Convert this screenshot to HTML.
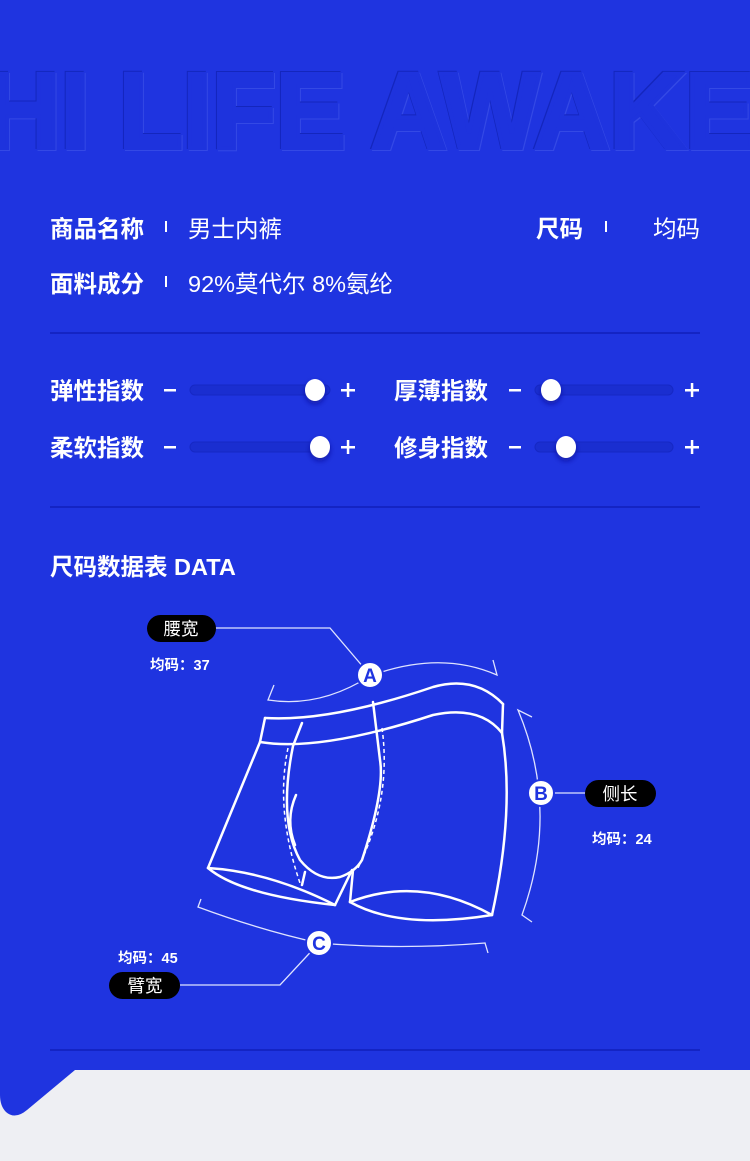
<!DOCTYPE html>
<html><head><meta charset="utf-8"><style>
html,body{margin:0;padding:0;background:#eeeff3;}
svg{display:block}
text{font-family:"Liberation Sans","Noto Sans CJK SC",sans-serif;fill:#fff}
</style></head><body>
<svg width="750" height="1161" viewBox="0 0 750 1161" xmlns="http://www.w3.org/2000/svg">
<defs>
<filter id="sh" x="-50%" y="-50%" width="200%" height="200%"><feDropShadow dx="0" dy="3" stdDeviation="3" flood-color="#0a1590" flood-opacity="0.7"/></filter>
</defs>
<rect x="0" y="0" width="750" height="1161" fill="#eeeff3"/>
<path d="M0 0 H750 V1070 H75 L27 1110 Q15 1120 6 1112 Q0 1106 0 1095 Z" fill="#1f34e0"/>
<!-- embossed title -->
<g font-weight="bold" font-size="108">
<text x="-14" y="149" style="fill:#5d70f0;stroke:#5d70f0;stroke-width:4;opacity:.35" textLength="770" lengthAdjust="spacingAndGlyphs">HI LIFE AWAKE</text>
<text x="-16" y="147" style="fill:#1426bd;stroke:#1426bd;stroke-width:4" textLength="770" lengthAdjust="spacingAndGlyphs">HI LIFE AWAKE</text>
<text x="-15" y="148" style="fill:#1e33dd;stroke:#1e33dd;stroke-width:4" textLength="770" lengthAdjust="spacingAndGlyphs">HI LIFE AWAKE</text>
</g>
<!-- info -->
<g font-size="23.5">
<text x="50" y="237" font-weight="bold">商品名称</text>
<rect x="165" y="221" width="2" height="11" fill="#fff"/>
<text x="188" y="237">男士内裤</text>
<text x="536" y="237" font-weight="bold">尺码</text>
<rect x="605" y="221" width="2" height="11" fill="#fff"/>
<text x="653" y="237">均码</text>
<text x="50" y="292" font-weight="bold">面料成分</text>
<rect x="165" y="276" width="2" height="11" fill="#fff"/>
<text x="188" y="292">92%莫代尔  8%氨纶</text>
</g>
<g fill="#1424c4">
<rect x="50" y="332" width="650" height="2"/>
<rect x="50" y="506" width="650" height="2"/>
<rect x="50" y="1049" width="650" height="2"/>
</g>
<!-- sliders -->
<g font-size="23.5" font-weight="bold">
<text x="50" y="399">弹性指数</text>
<text x="50" y="456">柔软指数</text>
<text x="394" y="399">厚薄指数</text>
<text x="394" y="456">修身指数</text>
</g>
<g fill="#fff">
<rect x="164" y="389" width="12" height="2.5"/><rect x="341" y="389" width="14" height="2.5"/><rect x="346.8" y="383" width="2.5" height="14"/>
<rect x="164" y="446" width="12" height="2.5"/><rect x="341" y="446" width="14" height="2.5"/><rect x="346.8" y="440" width="2.5" height="14"/>
<rect x="509" y="389" width="12" height="2.5"/><rect x="685" y="389" width="14" height="2.5"/><rect x="690.8" y="383" width="2.5" height="14"/>
<rect x="509" y="446" width="12" height="2.5"/><rect x="685" y="446" width="14" height="2.5"/><rect x="690.8" y="440" width="2.5" height="14"/>
</g>
<g fill="#1a2ed0" stroke="#1628c4" stroke-width="1">
<rect x="190" y="385" width="140" height="10" rx="5"/>
<rect x="190" y="442" width="140" height="10" rx="5"/>
<rect x="535" y="385" width="138" height="10" rx="5"/>
<rect x="535" y="442" width="138" height="10" rx="5"/>
</g>
<g fill="#fff" filter="url(#sh)">
<ellipse cx="315" cy="390" rx="10" ry="11"/>
<ellipse cx="320" cy="447" rx="10" ry="11"/>
<ellipse cx="551" cy="390" rx="10" ry="11"/>
<ellipse cx="566" cy="447" rx="10" ry="11"/>
</g>
<text x="50" y="575" font-size="23.5" font-weight="bold">尺码数据表 DATA</text>
<!-- diagram -->
<g fill="none" stroke="#fff" stroke-width="2.5" stroke-linejoin="round" stroke-linecap="round">
<path d="M265 718 Q330 722 433 687 Q475 675 503 704"/>
<path d="M260 742 Q320 752 433 715 Q480 705 502 733"/>
<path d="M265 718 L260 742 L208 868"/>
<path d="M503 704 L502 733 Q515 810 492 915"/>
<path d="M208 868 Q270 872 335 905"/>
<path d="M208 868 Q240 895 335 905"/>
<path d="M335 905 L352 870"/>
<path d="M350 902 L353 870"/>
<path d="M350 902 Q420 875 492 915"/>
<path d="M350 902 Q400 930 492 915"/>
<path d="M302 723 L293 746 Q278 820 300 860 Q318 882 340 877 Q355 872 362 860 Q385 790 380 760 L373 702"/>
<path d="M296 795 Q285 820 295 845"/>
<path d="M305 872 L302 885"/>
</g>
<g fill="none" stroke="#fff" stroke-width="1.5" stroke-dasharray="4 3">
<path d="M288 748 Q275 810 300 883"/>
<path d="M382 728 Q392 800 357 870"/>
</g>
<g fill="none" stroke="#dfe3ff" stroke-width="1.3">
<path d="M274 685 L268 700 Q320 708 370 676 Q440 650 497 675 L493 660"/>
<path d="M532 717 L518 710 Q560 810 522 915 L532 922"/>
<path d="M201 899 L198 907 Q260 930 319 943 Q400 950 485 943 L488 953"/>
<path d="M370 675 L330 628 L215 628"/>
<path d="M541 793 L590 793"/>
<path d="M319 943 L280 985 L180 985"/>
</g>
<g fill="#fff" stroke="#1f34e0" stroke-width="2">
<circle cx="370" cy="675" r="13"/><circle cx="541" cy="793" r="13"/><circle cx="319" cy="943" r="13"/>
</g>
<g font-size="19" font-weight="bold" text-anchor="middle">
<text x="370" y="682" style="fill:#1f34e0">A</text>
<text x="541" y="800" style="fill:#1f34e0">B</text>
<text x="319" y="950" style="fill:#1f34e0">C</text>
</g>
<g fill="#000">
<rect x="147" y="615" width="69" height="27" rx="13.5"/>
<rect x="585" y="780" width="71" height="27" rx="13.5"/>
<rect x="109" y="972" width="71" height="27" rx="13.5"/>
</g>
<g font-size="17.5" text-anchor="middle">
<text x="181" y="635">腰宽</text>
<text x="620" y="800">侧长</text>
<text x="145" y="992">臂宽</text>
</g>
<g font-size="14.5" font-weight="bold">
<text x="150" y="670">均码：37</text>
<text x="592" y="844">均码：24</text>
<text x="118" y="963">均码：45</text>
</g>
</svg>
</body></html>
